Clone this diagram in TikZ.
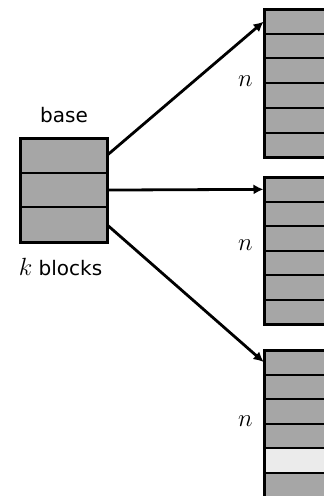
\documentclass[tikz,border=0pt]{standalone}
\usepackage{fontspec}
\setsansfont{DejaVu Sans}
\usetikzlibrary{arrows.meta}
\definecolor{cellgray}{HTML}{A6A6A6}
\definecolor{celllight}{HTML}{EBEBEB}
\tikzset{
  cell/.style={draw, line width=2pt, fill=cellgray, inner sep=0pt, outer sep=0pt,
               anchor=north west, minimum width=#1},
  basecell/.style={cell=87pt, minimum height=34.7pt},
  colcell/.style={cell=80pt, minimum height=24.7pt},
  outline/.style={draw, line width=3pt},
  link/.style={line width=2.8pt, -{Latex[length=10pt,width=10pt]}, shorten >=0.5pt},
  lbl/.style={font=\sffamily\fontsize{20}{24}\selectfont, inner sep=0pt},
  mlbl/.style={font=\fontsize{23}{24}\selectfont, inner sep=0pt}
}
\begin{document}
\begin{tikzpicture}[x=1pt,y=-1pt]
\useasboundingbox (0,0) rectangle (324,496);
\clip (0,0) rectangle (324,496);

% base array of k blocks
\node[basecell] (b1) at (20,138) {};
\node[basecell] (b2) at (20,172.7) {};
\node[basecell] (b3) at (20,207.4) {};
\draw[outline] (20,138) rectangle (107,242.1);
\node[lbl, anchor=base] (base) at (64,122) {base};
\node[lbl, anchor=base] (kb) at (60.5,275) {{\fontsize{23}{24}\selectfont$k$} blocks};

% top block of n cells
\foreach \i in {1,...,6} {
  \node[colcell] (t\i) at (264,{9+(\i-1)*24.7}) {};
}
\draw[outline] (264,9) rectangle (344,157.2);
\node[mlbl] (tn) at (245.5,81) {$n$};

% middle block of n cells
\foreach \i in {1,...,6} {
  \node[colcell] (m\i) at (264,{177+(\i-1)*24.6}) {};
}
\draw[outline] (264,177) rectangle (344,324.6);
\node[mlbl] (mn) at (245.5,245) {$n$};

% bottom block of n cells, one of them free
\foreach \i in {1,...,6} {
  \node[colcell] (l\i) at (264,{350+(\i-1)*24.6}) {};
}
\node[colcell, fill=celllight] (l5) at (264,{350+4*24.6}) {};
\draw[outline] (264,350) rectangle (344,520);
\node[mlbl] (ln) at (245.5,421) {$n$};

% pointers from the base blocks
\draw[link] (b1.east) -- (t1.west);
\draw[link] (b2.east) -- (m1.west);
\draw[link] (b3.east) -- (l1.west);
\end{tikzpicture}
\end{document}
